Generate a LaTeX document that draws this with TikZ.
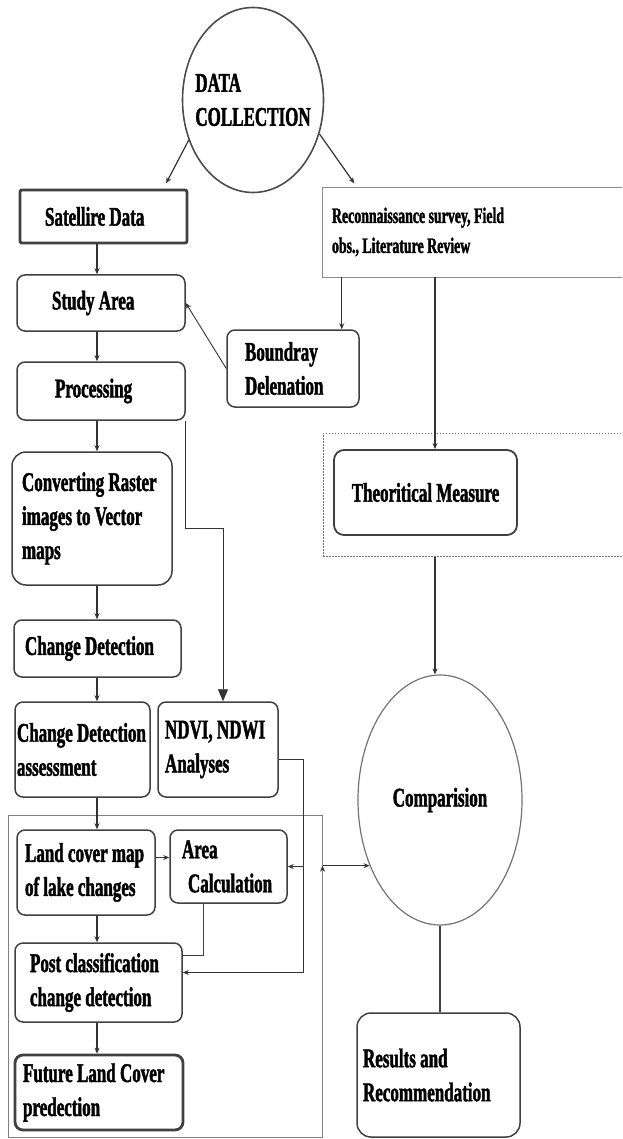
\documentclass[tikz,border=0pt]{standalone}
\usepackage{fontspec}
\newfontfamily\chartfont{Liberation Serif Bold}[FakeStretch=0.63, FakeBold=1.6]
\usetikzlibrary{shapes.geometric,arrows.meta}

\begin{document}
\begin{tikzpicture}[x=1pt, y=-1pt,
    font=\chartfont\fontsize{27}{34}\selectfont,
    box/.style={draw=black!75, line width=1.5pt, rounded corners=8pt, inner ysep=0pt, align=flush left},
    oval/.style={ellipse, draw=black!70, line width=1.6pt, inner sep=0pt},
    groupbox/.style={draw=black!50, line width=1pt, inner sep=0pt},
    dotbox/.style={draw=black!55, line width=1pt, dash pattern=on 1.5pt off 1.5pt, inner sep=0pt},
    arr/.style={-{Stealth[length=6pt,width=5pt]}, line width=1.2pt, draw=black!80},
    bigarr/.style={-{Triangle[length=12pt,width=10pt]}, line width=0.9pt, draw=black!80},
    link/.style={line width=1.2pt, draw=black!75}]
    \clip (0,0) rectangle (622,1139);

    % top of the chart
    \node[oval, minimum width=141pt, minimum height=185pt, inner xsep=-10pt, align=left] (collect) at (253,100) {DATA\\COLLECTION};
    \node[box, line width=2.8pt, rounded corners=2pt, minimum height=53pt, inner xsep=25pt, text width=117pt] (sat) at (103.5,216.5) {Satellire Data};
    \node[box, draw=black!45, line width=0.8pt, sharp corners, minimum height=90pt, inner xsep=10pt, text width=298pt,
        font=\chartfont\fontsize{22}{30}\selectfont] (recon) at (481,232) {Reconnaissance survey, Field\\obs., Literature Review};

    % left column
    \node[box, minimum height=56pt, inner xsep=35pt, text width=98pt] (study) at (101,303) {Study Area};
    \node[box, minimum height=58pt, inner xsep=38pt, text width=92pt] (proc) at (101,391) {Processing};
    \node[box, rounded corners=14pt, minimum height=133pt, inner xsep=10pt, text width=140pt] (conv) at (92,518.5) {Converting Raster\\images to Vector\\maps};
    \node[box, minimum height=77pt, inner xsep=18pt, text width=96pt] (bound) at (293,368.5) {Boundray\\Delenation};
    \node[box, minimum height=57pt, inner xsep=11pt, text width=145pt] (cd) at (97.5,648.5) {Change Detection};
    \node[box, minimum height=95pt, inner xsep=2pt, text width=131pt] (cda) at (82.5,749.5) {Change Detection\\assessment};
    \node[box, minimum height=95pt, inner xsep=7pt, text width=106pt] (ndvi) at (218,749.5) {NDVI, NDWI\\Analyses};

    % right column
    \node[dotbox, minimum width=317pt, minimum height=123pt] (tmframe) at (481.5,494.5) {};
    \node[box, line width=1.8pt, rounded corners=10pt, minimum width=183pt, minimum height=85pt, align=center] (tm) at (425.5,492.5) {Theoritical Measure};
    \node[oval, draw=black!55, line width=1.2pt, minimum width=164pt, minimum height=250pt] (cmp) at (440,800) {Comparision};
    \node[box, rounded corners=14pt, minimum height=124pt, inner xsep=6pt, text width=151pt] (res) at (438.5,1075) {Results and\\Recommendation};

    % lower group
    \node[groupbox, minimum width=314pt, minimum height=322pt] (frame) at (165,976) {};
    \node[box, minimum height=85pt, inner xsep=8pt, text width=122pt] (land) at (86,872.5) {Land cover map\\of lake changes};
    \node[box, minimum height=73pt, inner xsep=12pt, text width=93pt] (area) at (228.5,866.5) {Area\\\hspace*{6pt}Calculation};
    \node[box, minimum height=79pt, inner xsep=15pt, text width=137pt] (post) at (98.5,982.5) {Post classification\\change detection};
    \node[box, line width=2.8pt, minimum height=75pt, inner xsep=8pt, text width=152pt] (future) at (99,1092.5) {Future Land Cover\\predection};

    \coordinate (col) at (97,0);
    \coordinate (rcol) at (435,0);
    \coordinate (bx) at ([xshift=-18pt]bound.north east);
    \coordinate (kink) at (223,528);
    \coordinate (bus) at ([xshift=25pt, yshift=-10pt]ndvi.east);
    \coordinate (lk) at ([yshift=15pt]land.east);

    \path[arr]
    (collect.212) edge[shorten >=6pt] (sat.25)
    (collect.-27) edge[shorten >=4pt] ([xshift=35pt]recon.north west)
    (sat.south -| col) edge (study.north -| col)
    (study.south -| col) edge (proc.north -| col)
    (proc.south -| col) edge (conv.north -| col)
    (conv.south -| col) edge (cd.north -| col)
    (cd.south -| col) edge (cda.north -| col)
    (cda.south -| col) edge (land.north -| col)
    (land.south -| col) edge (post.north -| col)
    (post.south -| col) edge (future.north -| col)
    (bx |- recon.south) edge[line width=0.9pt] (bx)
    (bound.west) edge[line width=0.9pt] (study.east)
    (recon.south -| rcol) edge[line width=1.6pt] (tm.north -| rcol)
    (tmframe.south -| rcol) edge[line width=1.6pt] (cmp.north -| rcol)
    (lk) edge (lk -| area.west)
    (bus |- area.east) edge (area.east)
    (frame.east |- cmp.223) edge (cmp.223);

    \draw[bigarr] (proc.south east) |- (kink) -- (kink |- ndvi.north);
    \draw[arr, line width=0.9pt] ([yshift=-10pt]ndvi.east) -- (bus) |- ([yshift=10pt]post.east);
    \draw[link] ([xshift=-25pt]area.south) |- ([yshift=27pt]post.east);
    \draw[link] (cmp.south) -- (cmp.south |- res.north);
\end{tikzpicture}
\end{document}
